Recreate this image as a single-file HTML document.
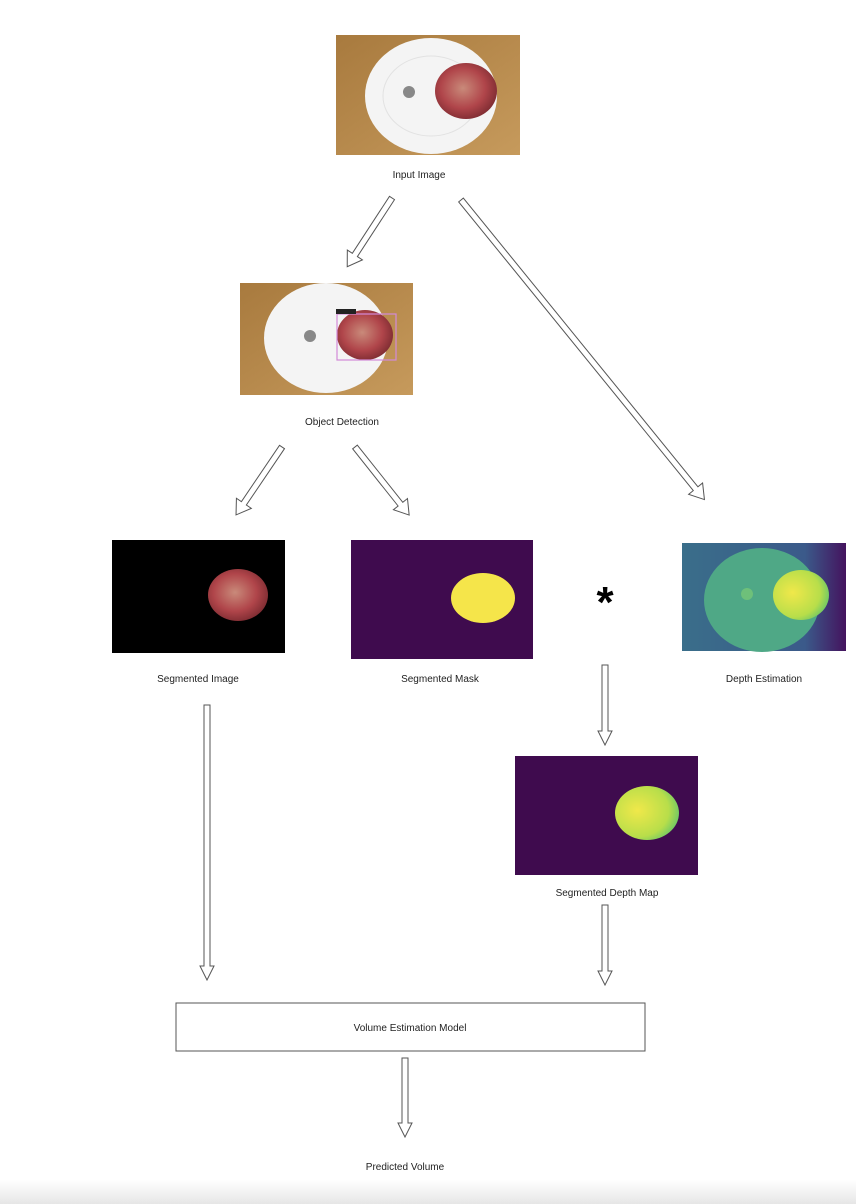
<!DOCTYPE html>
<html><head><meta charset="utf-8"><style>
html,body{margin:0;padding:0;background:#fff}
svg{display:block}
text{font-family:"Liberation Sans",sans-serif;font-size:10px;fill:#222;text-anchor:middle}
</style></head><body>
<svg width="856" height="1204" viewBox="0 0 856 1204" xmlns="http://www.w3.org/2000/svg">
<defs>
<radialGradient id="apple" cx="0.45" cy="0.45" r="0.6"><stop offset="0" stop-color="#c98a7a"/><stop offset="0.6" stop-color="#b0454a"/><stop offset="1" stop-color="#7a2a30"/></radialGradient>
<linearGradient id="wood" x1="0" y1="0" x2="1" y2="1"><stop offset="0" stop-color="#a87a3e"/><stop offset="1" stop-color="#c69a5c"/></linearGradient>
<linearGradient id="dbg" x1="0" y1="0" x2="1" y2="0"><stop offset="0" stop-color="#3a6e8a"/><stop offset="0.75" stop-color="#3b5a8a"/><stop offset="1" stop-color="#44135e"/></linearGradient>
<radialGradient id="yel" cx="0.35" cy="0.45" r="0.7"><stop offset="0" stop-color="#f0e84a"/><stop offset="0.7" stop-color="#b8de4a"/><stop offset="1" stop-color="#62c46a"/></radialGradient>
<linearGradient id="bot" x1="0" y1="0" x2="0" y2="1"><stop offset="0" stop-color="#fff"/><stop offset="1" stop-color="#e6e6e6"/></linearGradient>
</defs>
<rect x="0" y="1180" width="856" height="24" fill="url(#bot)"/>

<!-- Input image -->
<rect x="336" y="35" width="184" height="120" fill="url(#wood)"/>
<ellipse cx="431" cy="96" rx="66" ry="58" fill="#f4f4f4"/>
<ellipse cx="431" cy="96" rx="48" ry="40" fill="none" stroke="#e2e2e2"/>
<circle cx="409" cy="92" r="6" fill="#888"/>
<ellipse cx="466" cy="91" rx="31" ry="28" fill="url(#apple)"/>
<text x="419" y="178">Input Image</text>

<!-- Object detection -->
<rect x="240" y="283" width="173" height="112" fill="url(#wood)"/>
<ellipse cx="326" cy="338" rx="62" ry="55" fill="#f4f4f4"/>
<circle cx="310" cy="336" r="6" fill="#888"/>
<ellipse cx="365" cy="335" rx="28" ry="25" fill="url(#apple)"/>
<rect x="337" y="314" width="59" height="46" fill="none" stroke="#d28ad8" stroke-width="1.2"/>
<rect x="336" y="309" width="20" height="5" fill="#222"/>
<text x="342" y="425">Object Detection</text>

<!-- Segmented image -->
<rect x="112" y="540" width="173" height="113" fill="#000"/>
<ellipse cx="238" cy="595" rx="30" ry="26" fill="url(#apple)"/>
<text x="198" y="682">Segmented Image</text>

<!-- Mask -->
<rect x="351" y="540" width="182" height="119" fill="#3f0b4e"/>
<ellipse cx="483" cy="598" rx="32" ry="25" fill="#f5e54a"/>
<text x="440" y="682">Segmented Mask</text>

<!-- asterisk -->
<text x="605" y="617" style="font-size:44px;font-weight:bold;fill:#000">*</text>

<!-- Depth -->
<rect x="682" y="543" width="164" height="108" fill="url(#dbg)"/>
<ellipse cx="762" cy="600" rx="58" ry="52" fill="#4fa886"/>
<circle cx="747" cy="594" r="6" fill="#6ec07a"/>
<ellipse cx="801" cy="595" rx="28" ry="25" fill="url(#yel)"/>
<text x="764" y="682">Depth Estimation</text>

<!-- Segmented depth -->
<rect x="515" y="756" width="183" height="119" fill="#3f0b4e"/>
<ellipse cx="647" cy="813" rx="32" ry="27" fill="url(#yel)"/>
<text x="607" y="896">Segmented Depth Map</text>

<!-- Box -->
<rect x="176" y="1003" width="469" height="48" fill="#fff" stroke="#555" stroke-width="1"/>
<text x="410" y="1031">Volume Estimation Model</text>
<text x="405" y="1170">Predicted Volume</text>

<!-- arrows -->
<g fill="#fff" stroke="#555" stroke-width="1">
<polygon transform="translate(392,198) rotate(123.1)" points="0,-3 68,-3 68,-9 82,0 68,9 68,3 0,3"/>
<polygon transform="translate(461,200) rotate(50.9)" points="0,-3 372,-3 372,-9 386,0 372,9 372,3 0,3"/>
<polygon transform="translate(282,447) rotate(124.1)" points="0,-3 68,-3 68,-9 82,0 68,9 68,3 0,3"/>
<polygon transform="translate(355,447) rotate(51.5)" points="0,-3 73,-3 73,-9 87,0 73,9 73,3 0,3"/>
<polygon transform="translate(207,705) rotate(90)" points="0,-3 261,-3 261,-7 275,0 261,7 261,3 0,3"/>
<polygon transform="translate(605,665) rotate(90)" points="0,-3 66,-3 66,-7 80,0 66,7 66,3 0,3"/>
<polygon transform="translate(605,905) rotate(90)" points="0,-3 66,-3 66,-7 80,0 66,7 66,3 0,3"/>
<polygon transform="translate(405,1058) rotate(90)" points="0,-3 65,-3 65,-7 79,0 65,7 65,3 0,3"/>
</g>
</svg>
</body></html>
